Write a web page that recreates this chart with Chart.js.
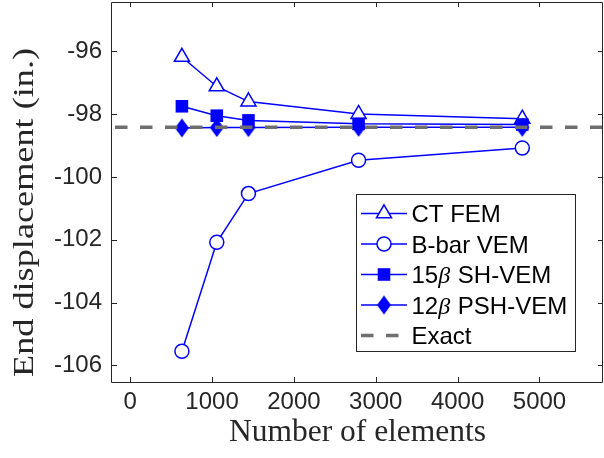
<!DOCTYPE html>
<html><head><meta charset="utf-8">
<script src="https://cdn.jsdelivr.net/npm/chart.js@4/dist/chart.umd.min.js"></script>
<style>html,body{margin:0;padding:0;background:#fff}#wrap{width:604px;height:458px;position:relative}</style>
</head><body><div id="wrap"><canvas id="c" width="604" height="458"></canvas></div>
<script>
// ---- data ----
const elements = [632, 1058, 1445, 2790, 4790];
const ctFEM   = [-96.18, -97.12, -97.60, -98.00, -98.15];
const bbarVEM = [-105.55, -102.08, -100.53, -99.47, -99.08];
const sh15    = [-97.75, -98.05, -98.20, -98.31, -98.33];
const psh12   = [-98.44, -98.43, -98.43, -98.42, -98.42];
const exactValue = -98.42;
const xLimits = [-222, 5776];
const yLimits = [-106.53, -94.43];
const xTicks = [0, 1000, 2000, 3000, 4000, 5000];
const yTicks = [-106, -104, -102, -100, -98, -96];
const seriesLabels = ['CT FEM', 'B-bar VEM', '15β SH-VEM', '12β PSH-VEM', 'Exact'];
const xTitle = 'Number of elements';
const yTitle = 'End displacement (in.)';

const BLUE = '#0000ff';
const GRAY = '#6e6e6e';
const AXIS = '#262626';

function diamondImg(w, h, color) {
  const c = document.createElement('canvas');
  c.width = w + 2; c.height = h + 2;
  const g = c.getContext('2d');
  g.fillStyle = color;
  g.beginPath();
  g.moveTo(c.width / 2, 1);
  g.lineTo(c.width - 1, c.height / 2);
  g.lineTo(c.width / 2, c.height - 1);
  g.lineTo(1, c.height / 2);
  g.closePath();
  g.fill();
  return c;
}
const diamond = diamondImg(14, 19, BLUE);

const pts = (ys) => elements.map((x, i) => ({x: x, y: ys[i]}));

const datasets = [
  {label: seriesLabels[0], data: pts(ctFEM), borderColor: BLUE, backgroundColor: '#fff', borderWidth: 1.5,
   pointStyle: 'triangle', pointRadius: 8.7, pointBorderWidth: 1.5, pointBackgroundColor: '#fff', pointBorderColor: BLUE, order: 5},
  {label: seriesLabels[1], data: pts(bbarVEM), borderColor: BLUE, backgroundColor: '#fff', borderWidth: 1.5,
   pointStyle: 'circle', pointRadius: 7, pointBorderWidth: 1.5, pointBackgroundColor: '#fff', pointBorderColor: BLUE, order: 4},
  {label: seriesLabels[2], data: pts(sh15), borderColor: BLUE, backgroundColor: BLUE, borderWidth: 1.5,
   pointStyle: 'rect', pointRadius: 8.9, pointBorderWidth: 0, pointBackgroundColor: BLUE, pointBorderColor: BLUE, order: 3},
  {label: seriesLabels[3], data: pts(psh12), borderColor: BLUE, backgroundColor: BLUE, borderWidth: 1.5,
   pointStyle: diamond, pointRadius: 8, pointBorderWidth: 0, pointBackgroundColor: BLUE, pointBorderColor: BLUE, order: 2},
  {label: seriesLabels[4], data: xLimits.map(x => ({x: x, y: exactValue})), borderColor: GRAY, borderWidth: 3.5,
   borderDash: [12.5, 12.5], borderDashOffset: -3, pointRadius: 0, order: 1}
];

const axesBox = {
  id: 'axesBox',
  afterDatasetsDraw(chart) {
    const {ctx, chartArea: a, scales} = chart;
    ctx.save();
    ctx.strokeStyle = AXIS;
    ctx.lineWidth = 1;
    ctx.beginPath();
    ctx.rect(Math.round(a.left) - 0.5, Math.round(a.top) + 0.5, Math.round(a.right - a.left), Math.round(a.bottom - a.top));
    ctx.stroke();
    const tl = 5;
    ctx.beginPath();
    xTicks.forEach(v => {
      const px = Math.round(scales.x.getPixelForValue(v)) + 0.5;
      ctx.moveTo(px, a.bottom); ctx.lineTo(px, a.bottom - tl);
      ctx.moveTo(px, a.top); ctx.lineTo(px, a.top + tl);
    });
    yTicks.forEach(v => {
      const py = Math.round(scales.y.getPixelForValue(v)) + 0.5;
      ctx.moveTo(a.left, py); ctx.lineTo(a.left + tl, py);
      ctx.moveTo(a.right, py); ctx.lineTo(a.right - tl, py);
    });
    ctx.stroke();
    ctx.restore();
  },
  afterDraw(chart) {
    const {ctx} = chart;
    // y title, stretched along its direction to the reference length
    ctx.save();
    ctx.fillStyle = AXIS;
    ctx.font = '30px "Liberation Serif"';
    ctx.translate(33, 212.5);
    ctx.rotate(-Math.PI / 2);
    const w = ctx.measureText(yTitle).width;
    ctx.scale(329 / w, 1);
    ctx.textAlign = 'center';
    ctx.textBaseline = 'alphabetic';
    ctx.fillText(yTitle, 0, 0);
    ctx.restore();

    // legend
    const L = {x: 356.5, y: 194.5, w: 219, h: 157};
    ctx.save();
    ctx.fillStyle = '#fff';
    ctx.fillRect(L.x, L.y, L.w, L.h);
    ctx.strokeStyle = AXIS;
    ctx.lineWidth = 1;
    ctx.strokeRect(L.x, L.y, L.w, L.h);
    const rows = [213.5, 244, 274.5, 305, 335.5];
    chart.data.datasets.forEach((ds, i) => {
      const y = rows[i];
      ctx.save();
      ctx.strokeStyle = ds.borderColor;
      ctx.lineWidth = ds.borderWidth;
      ctx.setLineDash(ds.borderDash || []);
      ctx.beginPath();
      ctx.moveTo(361, y); ctx.lineTo(407, y);
      ctx.stroke();
      ctx.restore();
      if (ds.pointRadius > 0) {
        ctx.save();
        ctx.fillStyle = ds.pointBackgroundColor;
        ctx.strokeStyle = ds.pointBorderColor;
        ctx.lineWidth = ds.pointBorderWidth;
        Chart.helpers.drawPoint(ctx, {pointStyle: ds.pointStyle, radius: ds.pointRadius, rotation: 0, borderWidth: ds.pointBorderWidth}, 384, y);
        ctx.restore();
      }
      ctx.fillStyle = '#000';
      ctx.textBaseline = 'alphabetic';
      ctx.textAlign = 'left';
      const base = '24px "Liberation Sans"';
      const parts = ds.label.split('β');
      let tx = 411.5;
      const ty = y + 8.5;
      parts.forEach((p, k) => {
        if (k > 0) {
          ctx.font = 'italic 24px "Liberation Serif"';
          ctx.fillText('β', tx, ty);
          tx += ctx.measureText('β').width + 1;
        }
        ctx.font = base;
        ctx.fillText(p, tx, ty);
        tx += ctx.measureText(p).width;
      });
    });
    ctx.restore();
  }
};

function noPad(s) { s.paddingTop = 0; s.paddingBottom = 0; s.paddingLeft = 0; s.paddingRight = 0; }

new Chart(document.getElementById('c'), {
  type: 'scatter',
  data: {datasets: datasets},
  options: {
    responsive: false,
    animation: false,
    devicePixelRatio: 1,
    showLine: true,
    layout: {autoPadding: false, padding: {top: 2, right: 1, left: 0, bottom: 0}},
    plugins: {legend: {display: false}, tooltip: {enabled: false}},
    elements: {line: {tension: 0}},
    scales: {
      x: {
        type: 'linear', min: xLimits[0], max: xLimits[1],
        afterBuildTicks: s => { s.ticks = xTicks.map(v => ({value: v})); },
        afterFit: s => { s.height = 76; noPad(s); },
        grid: {display: false, drawTicks: false},
        border: {display: false},
        ticks: {color: AXIS, font: {family: 'Liberation Sans', size: 24}, padding: 6, maxRotation: 0, autoSkip: false,
                callback: v => String(v)},
        title: {display: true, text: xTitle, color: AXIS, font: {family: 'Liberation Serif', size: 31.5}, padding: {top: 0, bottom: 6}}
      },
      y: {
        type: 'linear', min: yLimits[0], max: yLimits[1],
        afterBuildTicks: s => { s.ticks = yTicks.map(v => ({value: v})); },
        afterFit: s => { s.width = 112; noPad(s); },
        grid: {display: false, drawTicks: false},
        border: {display: false},
        ticks: {color: AXIS, font: {family: 'Liberation Sans', size: 24}, padding: 10, autoSkip: false,
                callback: v => String(v)}
      }
    }
  },
  plugins: [axesBox]
});
</script>
</body></html>
